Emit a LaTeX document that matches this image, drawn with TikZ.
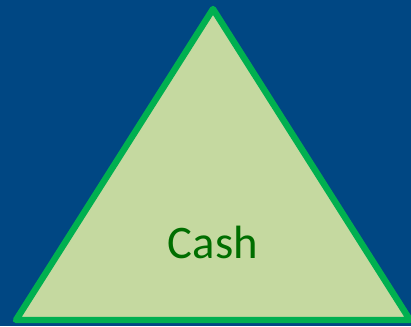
\documentclass[tikz,border=0pt]{standalone}
\usepackage{fontspec}
\setmainfont{Carlito}
\definecolor{bg}{RGB}{0,71,131}
\definecolor{trifill}{RGB}{197,217,160}
\definecolor{tristroke}{RGB}{0,176,80}
\definecolor{txt}{RGB}{0,110,0}
\begin{document}
\begin{tikzpicture}[x=0.75pt,y=-0.75pt,
  tri/.style={fill=trifill,draw=tristroke,line width=4.8pt,line join=round},
  lbl/.style={text=txt,font=\fontsize{35}{40}\selectfont,anchor=base,inner sep=0pt}]
\fill[bg] (0,0) rectangle (411,326);
\useasboundingbox (0,0) rectangle (411,326);
\coordinate (apex) at (213,9);
\coordinate (bl) at (16,320);
\coordinate (br) at (410,320);
\draw[tri] (apex) -- (br) -- (bl) -- cycle;
\node[lbl] (cash) at (213,258) {Cash};
\end{tikzpicture}
\end{document}
